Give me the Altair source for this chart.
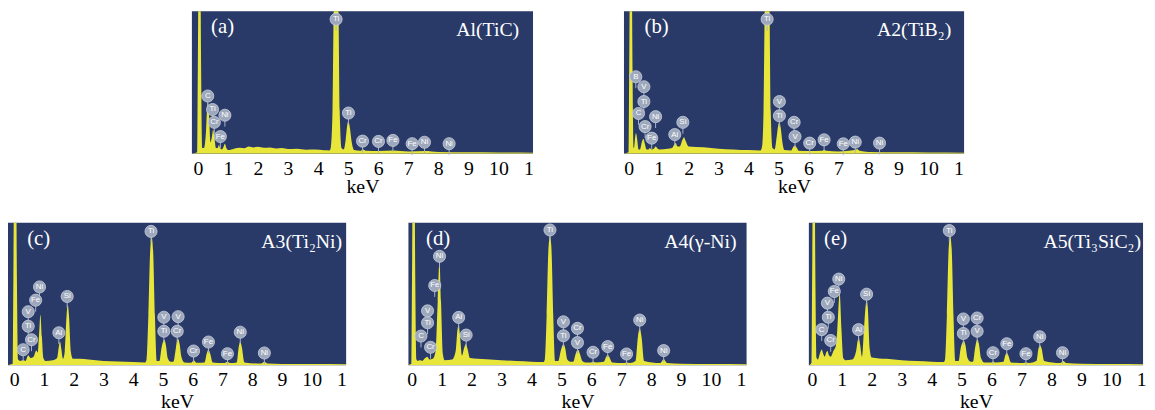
import altair as alt
import pandas as pd

NAVY = "#293a69"
YELLOW = "#e8e63a"
BUBBLE = "#9ea8bc"
SERIF = "Liberation Serif"
TICKS = list(range(12))

# ---------------- panel (a) Al(TiC) ----------------
a_kev = [-0.2, -0.02, 0.0, 0.03, 0.08, 0.11, 0.15, 0.2, 0.27, 0.31, 0.34, 0.37, 0.42, 0.47, 0.51, 0.55, 0.6,
         0.66, 0.7, 0.74, 0.8, 0.86, 0.9, 0.95, 1.02, 1.2, 1.4, 1.55, 1.7, 1.85, 2.0, 2.2, 2.4, 2.6, 2.8,
         3.0, 3.3, 3.6, 3.9, 4.2, 4.38,
         4.43, 4.48, 4.52, 4.6, 4.68, 4.72, 4.78, 4.85, 4.92, 4.97, 5.01, 5.06, 5.12, 5.2,
         5.4, 5.5, 5.6, 6.0, 6.5, 7.0, 7.55, 8.0, 9.0, 10.0, 11.3]
a_int = [0, 1, 60, 140, 140, 60, 4, 4, 15, 32, 36, 28, 8, 12, 17, 12, 4,
         4, 6, 4, 3, 5, 7, 4, 2.5, 3.5, 4.2, 3.8, 5, 4.4, 4.8, 4.1, 4.4, 3.7, 3.9,
         3.2, 3.4, 2.8, 2.9, 2.4, 2.3,
         5, 30, 100, 135, 100, 30, 4, 3, 10, 20, 23, 18, 8, 2.5,
         2, 3, 2, 1.8, 2.2, 1.5, 1.8, 1.2, 0.9, 0.8, 0.7]
a_lab_kev = [4.6, 0.33, 0.49, 0.9, 0.55, 0.75, 5.01, 5.48, 6.01, 6.49, 7.13, 7.54, 8.36]
a_lab_h = [94.4, 40.5, 31, 27, 22, 12, 28.5, 8.8, 8.6, 9.3, 7, 8, 7]
a_lab_txt = ["Ti", "C", "Ti", "Ni", "Cr", "Fe", "Ti", "Cr", "Cr", "Fe", "Fe", "Ni", "Ni"]

# ---------------- panel (b) A2(TiB2) ----------------
b_kev = [-0.2, 0.0, 0.02, 0.05, 0.1, 0.13, 0.17, 0.19, 0.22, 0.25, 0.28, 0.33, 0.38, 0.44, 0.49, 0.54, 0.6,
         0.66, 0.71, 0.76, 0.84, 0.9, 0.95, 1.02, 1.3, 1.45, 1.52, 1.57, 1.63, 1.7, 1.8, 1.85, 1.9, 2.0,
         2.5, 3.0, 3.5, 4.0, 4.4, 4.45, 4.5, 4.54, 4.62, 4.7, 4.74, 4.8,
         4.87, 4.94, 4.99, 5.03, 5.08, 5.13, 5.2, 5.42, 5.5, 5.55, 5.6, 5.68,
         6.0, 6.45, 6.52, 6.6, 7.0, 7.55, 7.62, 7.7, 8.0, 9.0, 10.0, 11.3]
b_int = [0, 1, 60, 140, 140, 60, 4, 5, 12, 14.4, 11, 3, 3, 8, 10.4, 7, 3,
         3, 4, 3, 3.5, 5, 4, 3, 3.5, 4, 6.5, 7.4, 5, 5, 10, 11.6, 9, 5,
         4.5, 3.5, 3, 2.5, 2.3, 5, 30, 100, 135, 100, 30, 4,
         3, 12, 20, 22, 17, 8, 2.5, 2.2, 5, 5.8, 4.5, 2,
         1.8, 2, 2.8, 2, 1.6, 2.5, 3.2, 2, 1.2, 0.9, 0.8, 0.7]
b_lab_kev = [4.62, 0.24, 0.51, 0.51, 0.33, 0.9, 0.55, 0.77, 1.54, 1.81, 5.03, 5.03, 5.52, 5.55, 6.04, 6.52, 7.16, 7.56, 8.37]
b_lab_h = [94.4, 54, 47, 36.6, 28.2, 26, 19, 10.9, 13.4, 22, 36.6, 26.6, 22, 12, 7.4, 9.7, 6.9, 8.1, 7.4]
b_lab_txt = ["Ti", "B", "V", "Ti", "C", "Ni", "Cr", "Fe", "Al", "Si", "V", "Ti", "Cr", "V", "Cr", "Fe", "Fe", "Ni", "Ni"]

# ---------------- panel (c) A3(Ti2Ni) ----------------
c_kev = [-0.25, -0.05, -0.03, 0.0, 0.06, 0.09, 0.13, 0.2, 0.3, 0.38, 0.47, 0.55, 0.65, 0.74, 0.79, 0.83, 0.88, 0.93, 0.98, 1.05,
         1.3, 1.44, 1.5, 1.54, 1.58, 1.64, 1.7, 1.76, 1.8, 1.84, 1.9, 1.97,
         2.2, 2.5, 3.0, 3.5, 4.0, 4.4, 4.45, 4.51, 4.57, 4.62, 4.67, 4.73, 4.79,
         4.88, 4.95, 5.01, 5.05, 5.1, 5.16, 5.25, 5.35, 5.42, 5.47, 5.51, 5.56, 5.62, 5.72,
         5.95, 6.04, 6.12, 6.4, 6.47, 6.53, 6.59, 6.67, 7.05, 7.17, 7.27, 7.48, 7.55, 7.6, 7.65, 7.74,
         8.3, 8.41, 8.52, 9.0, 10.0, 11.3]
c_int = [0, 1, 60, 140, 140, 60, 4, 3, 3.5, 3, 7, 5, 6, 10.4, 9, 20, 35.5, 20, 5, 3,
         3.5, 5, 13, 16.7, 12, 4.5, 10, 35, 42.4, 35, 10, 4.5,
         4.5, 4, 3, 2.7, 2.2, 2, 4, 35, 80, 90, 80, 35, 3,
         3, 12, 17, 17.9, 14, 5, 2.5, 2.5, 10, 17, 18.6, 15, 6, 2,
         1.8, 3.5, 1.8, 2, 8, 11, 8, 2, 1.5, 2.5, 1.5, 2, 13, 16.7, 13, 2,
         1.2, 2.5, 1.2, 0.9, 0.8, 0.7]
c_lab_kev = [4.6, 0.85, 0.72, 0.47, 0.47, 0.58, 0.3, 1.5, 1.78, 5.03, 5.03, 5.51, 5.48, 6.03, 6.53, 7.17, 7.6, 8.41]
c_lab_h = [94, 55, 45.7, 37.6, 27.4, 17.9, 10.9, 22.8, 48.3, 33.7, 23.9, 34.1, 23.9, 10, 16.3, 8.1, 23.2, 8.6]
c_lab_txt = ["Ti", "Ni", "Fe", "V", "Ti", "Cr", "C", "Al", "Si", "V", "Ti", "V", "Cr", "Cr", "Fe", "Fe", "Ni", "Ni"]

# ---------------- panel (d) A4(gamma-Ni) ----------------
d_kev = [-0.2, -0.01, 0.01, 0.04, 0.09, 0.12, 0.16, 0.2, 0.28, 0.35, 0.45, 0.52, 0.6, 0.7, 0.8, 0.87, 0.93, 0.98, 1.04, 1.1,
         1.35, 1.47, 1.53, 1.57, 1.61, 1.68, 1.75, 1.81, 1.86, 1.95,
         2.2, 2.5, 3.0, 3.5, 4.0, 4.4, 4.45, 4.51, 4.57, 4.62, 4.67, 4.73, 4.79,
         4.9, 4.98, 5.04, 5.08, 5.13, 5.2, 5.3, 5.4, 5.48, 5.53, 5.57, 5.62, 5.7, 5.8,
         6.0, 6.06, 6.15, 6.42, 6.5, 6.55, 6.6, 6.7, 7.1, 7.18, 7.3, 7.48, 7.56, 7.62, 7.68, 7.77,
         8.3, 8.42, 8.54, 9.0, 10.0, 11.3]
d_int = [0, 1, 60, 140, 140, 60, 4, 3, 3.5, 3, 5, 6, 4, 4.5, 10, 45, 73.6, 45, 8, 3.5,
         4, 10, 25, 28.2, 22, 7, 12, 14.9, 12, 5,
         4.5, 4.2, 3.5, 3, 2.5, 2.2, 4, 35, 82, 91, 82, 35, 3,
         3, 10, 14, 14.7, 12, 4, 2.5, 2.5, 8, 10.5, 10.7, 8, 3, 2,
         2, 2.5, 2, 2.5, 6, 7.2, 6, 2, 1.6, 2, 1.6, 3, 20, 25.9, 20, 3,
         1.5, 4.2, 1.5, 1, 0.8, 0.7]
d_lab_kev = [4.62, 0.93, 0.77, 0.53, 0.53, 0.31, 0.63, 1.57, 1.82, 5.07, 5.07, 5.54, 5.54, 6.06, 6.55, 7.18, 7.62, 8.42]
d_lab_h = [95, 76.5, 56, 38.2, 29.8, 20.5, 12.6, 33.6, 21.2, 30.5, 20.7, 25.9, 15.9, 9.1, 13.1, 7.9, 31.7, 10.3]
d_lab_txt = ["Ti", "Ni", "Fe", "V", "Ti", "C", "Cr", "Al", "Si", "V", "Ti", "Cr", "V", "Cr", "Fe", "Fe", "Ni", "Ni"]

# ---------------- panel (e) A5(Ti3SiC2) ----------------
e_kev = [-0.1, -0.01, 0.01, 0.04, 0.09, 0.12, 0.16, 0.2, 0.28, 0.33, 0.38, 0.43, 0.48, 0.52, 0.57, 0.63, 0.72, 0.8, 0.85, 0.93, 0.99, 1.05, 1.12,
         1.35, 1.48, 1.54, 1.57, 1.61, 1.68, 1.74, 1.79, 1.83, 1.87, 1.93, 2.0,
         2.5, 3.0, 3.5, 4.0, 4.4, 4.45, 4.51, 4.57, 4.62, 4.67, 4.73, 4.79,
         4.9, 4.97, 5.03, 5.08, 5.13, 5.2, 5.3, 5.38, 5.45, 5.5, 5.53, 5.58, 5.65, 5.75,
         6.0, 6.05, 6.12, 6.4, 6.46, 6.51, 6.56, 6.65, 7.05, 7.15, 7.25, 7.5, 7.57, 7.62, 7.67, 7.76,
         8.3, 8.39, 8.5, 9.0, 10.0, 11.2]
e_int = [0, 2, 60, 140, 140, 60, 5, 4, 9, 11, 8, 6, 9, 10, 7, 6, 10, 13.5, 25, 50.6, 25, 5, 3.5,
         4, 10, 18, 19.3, 15, 6, 25, 40, 45.5, 40, 12, 5.5,
         4.5, 3.5, 3, 2.5, 2.2, 4, 35, 82, 91, 82, 35, 3,
         3, 12, 16, 17, 14, 5, 2.5, 2.5, 12, 17, 18, 15, 5, 2,
         2, 2.5, 2, 2.5, 7, 8.8, 7, 2, 1.6, 2, 1.6, 3, 12, 14, 12, 3,
         1.5, 3, 1.5, 1, 0.8, 0.7]
e_lab_kev = [4.59, 0.9, 0.75, 0.52, 0.55, 0.33, 0.63, 1.56, 1.83, 5.06, 5.06, 5.52, 5.52, 6.05, 6.51, 7.15, 7.61, 8.37]
e_lab_h = [94.6, 60.5, 51.8, 43.6, 33.7, 25, 17.4, 25, 49.9, 32.5, 22.3, 33.2, 23.9, 8.8, 15.1, 8.1, 20, 8.8]
e_lab_txt = ["Ti", "Ni", "Fe", "V", "Ti", "C", "Cr", "Al", "Si", "V", "Ti", "Cr", "V", "Cr", "Fe", "Fe", "Ni", "Ni"]


def panel(kev, inten, lkev, lh, ltxt, dom, width, tag, name, tag_x, name_x, title_y):
    height = 144
    spec = pd.DataFrame({"keV": kev, "I": inten})
    labs = pd.DataFrame({"keV": lkev, "I": lh, "el": ltxt})
    xscale = alt.Scale(domain=dom, nice=False, zero=False)
    yscale = alt.Scale(domain=[0, 100], nice=False, zero=False)
    xenc = alt.X(
        "keV:Q", scale=xscale,
        axis=alt.Axis(values=TICKS, labelExpr="datum.value == 11 ? '1' : datum.label",
                      title="keV", titleY=title_y, titleBaseline="alphabetic"),
    )
    yenc = alt.Y("I:Q", scale=yscale, axis=None)
    area = alt.Chart(spec).mark_area(color=YELLOW, clip=True, interpolate="monotone", opacity=1).encode(
        x=xenc, y=yenc
    )
    base = alt.Chart(labs)
    stems = base.transform_calculate(I2="datum.I - 8").mark_rule(color="#aab3c6", strokeWidth=1).encode(
        x=xenc, y=yenc, y2="I2:Q"
    )
    dots = base.mark_circle(size=150, color=BUBBLE, opacity=1, stroke="#c9d0dd", strokeWidth=0.8).encode(
        x=xenc, y=yenc
    )
    txt = base.mark_text(font="Liberation Sans", fontSize=8, color="white").encode(
        x=xenc, y=yenc, text="el:N"
    )
    tagm = alt.Chart(pd.DataFrame({"t": [tag]})).mark_text(
        font=SERIF, fontSize=21, color="white", align="center", baseline="middle"
    ).encode(x=alt.value(tag_x), y=alt.value(16), text="t:N")
    namem = alt.Chart(pd.DataFrame({"t": [name]})).mark_text(
        font=SERIF, fontSize=20, color="white", align="right", baseline="middle"
    ).encode(x=alt.value(name_x), y=alt.value(19), text="t:N")
    return alt.layer(area, stems, dots, txt, tagm, namem).properties(
        width=width, height=height, view=alt.ViewBackground(fill=NAVY, stroke=None)
    )


pa = panel(a_kev, a_int, a_lab_kev, a_lab_h, a_lab_txt, [-0.197, 11.15], 345, "(a)", "Al(TiC)", 31, 331, 39.5)
pb = panel(b_kev, b_int, b_lab_kev, b_lab_h, b_lab_txt, [-0.155, 11.19], 344, "(b)", "A2(TiB\u2082)", 33, 331, 39.5)
pc = panel(c_kev, c_int, c_lab_kev, c_lab_h, c_lab_txt, [-0.21, 11.16], 342, "(c)", "A3(Ti\u2082Ni)", 31, 338, 43)
pd_ = panel(d_kev, d_int, d_lab_kev, d_lab_h, d_lab_txt, [-0.109, 11.19], 342, "(d)", "A4(\u03b3-Ni)", 30, 332, 43)
pe = panel(e_kev, e_int, e_lab_kev, e_lab_h, e_lab_txt, [-0.099, 11.06], 338, "(e)", "A5(Ti\u2083SiC\u2082)", 27, 336, 43)

spacer = alt.Chart(pd.DataFrame({"v": [0]})).mark_point(opacity=0).encode(
    x=alt.value(0), y=alt.value(60), size=alt.value(0)
).properties(width=96, height=144)

top = alt.hconcat(spacer, pa, pb, spacing=90)
bottom = alt.hconcat(pc, pd_, pe, spacing=60)

chart = alt.vconcat(top, bottom, spacing=25).properties(
    padding={"left": 0, "top": 1, "right": 0, "bottom": 0}
).configure_view(stroke=None).configure_axis(
    labelFont=SERIF, labelFontSize=20, labelColor="black", labelPadding=21, labelBaseline="alphabetic",
    labelFlush=False, labelOverlap=False, labelBound=False,
    titleFont=SERIF, titleFontSize=20, titleFontWeight="normal", titleColor="black",
    ticks=False, domain=False, grid=False,
)

chart.save("out.html", embed_options={"renderer": "svg", "actions": False})
